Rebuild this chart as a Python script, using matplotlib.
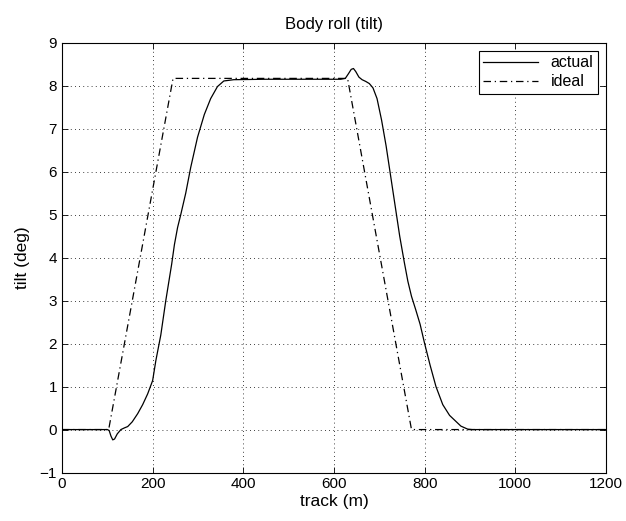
import matplotlib
matplotlib.use("Agg")
import matplotlib.pyplot as plt
import numpy as np

plt.rcParams['font.family'] = ['Liberation Sans', 'DejaVu Sans']

# actual body roll (track m, tilt deg)
actual_x = [0, 100, 104, 108, 112, 116, 122, 130, 138, 145, 155, 167, 178, 189, 200,
            207, 218, 229, 242, 248, 255, 262, 273, 284, 299, 314, 328, 343, 357,
            379, 450, 550, 615, 625, 632, 638, 643, 648, 655, 662, 670, 678,
            686, 695, 705, 715, 725, 735, 745, 755, 763, 771, 780, 790, 800,
            812, 825, 840, 855, 868, 880, 895, 905, 1000, 1200]
actual_y = [0, 0, -0.02, -0.15, -0.24, -0.22, -0.1, 0.0, 0.04, 0.07, 0.18, 0.37, 0.58, 0.83, 1.14,
            1.6, 2.2, 3.0, 3.85, 4.3, 4.7, 5.0, 5.5, 6.1, 6.8, 7.33, 7.7, 7.98, 8.11,
            8.14, 8.15, 8.15, 8.15, 8.17, 8.28, 8.38, 8.4, 8.33, 8.2, 8.14, 8.1, 8.05,
            7.95, 7.7, 7.2, 6.6, 5.9, 5.2, 4.5, 3.9, 3.45, 3.1, 2.8, 2.45, 2.0,
            1.5, 1.0, 0.58, 0.33, 0.2, 0.08, 0.01, 0, 0, 0]

# ideal tilt profile
ideal_x = [0, 103, 245, 630, 771, 1200]
ideal_y = [0, 0, 8.17, 8.17, 0, 0]

fig = plt.figure(figsize=(6.26, 5.21), dpi=100)
ax = fig.add_axes([0.099, 0.093, 0.869, 0.825])

ax.plot(actual_x, actual_y, color='k', lw=0.9, label='actual')
ax.plot(ideal_x, ideal_y, color='k', lw=0.9, ls=(0, (6, 3, 1, 3)), label='ideal')

ax.set_xlim(0, 1200)
ax.set_ylim(-1, 9)
ax.set_xticks(np.arange(0, 1201, 200))
ax.set_yticks(np.arange(-1, 10, 1))
ax.grid(True, color='k', ls=(0, (1, 4)), lw=0.6)
ax.tick_params(direction='in', top=True, right=True, labelsize=11, length=4, width=0.6)
for s in ax.spines.values():
    s.set_linewidth(0.8)

ax.set_title('Body roll (tilt)', fontsize=12, pad=10)
ax.set_xlabel('track (m)', fontsize=12.5, labelpad=2)
ax.set_ylabel('tilt (deg)', fontsize=12.5, labelpad=7)

leg = ax.legend(loc='upper right', fontsize=11.5, fancybox=False, framealpha=1,
                edgecolor='k', handlelength=3.4, borderaxespad=0.5,
                borderpad=0.3, labelspacing=0.25)
leg.get_frame().set_linewidth(0.8)

fig.savefig('out.png', dpi=100)
